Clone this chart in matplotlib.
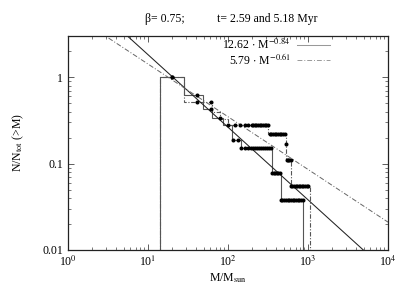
import matplotlib
matplotlib.use("Agg")
import matplotlib.pyplot as plt
import numpy as np

plt.rcParams['font.family'] = ['Liberation Serif', 'DejaVu Serif']
plt.rcParams['mathtext.fontset'] = 'stix'

# Power-law fits
fit_solid_amp, fit_solid_exp = 12.62, -0.84
fit_dash_amp, fit_dash_exp = 5.79, -0.61
fit_m = [1.0, 1e4]

# Cumulative distribution, t = 2.59 Myr (solid steps)
sol_edges = [14.1, 28.2, 48.7, 63, 86, 111, 145, 355, 457, 875]
sol_levels = [1.0, 0.62, 0.43, 0.34, 0.28, 0.19, 0.153, 0.078, 0.038]
sol_dot_m = [20, 40.6, 61.3, 79, 100, 115, 133,
             145, 163, 178, 194, 205, 218, 230, 243, 258, 274, 290, 307, 325, 340,
             355, 372, 390, 408, 427, 447,
             460, 480, 505, 530, 555, 585, 615, 645, 675, 710, 745, 780, 820, 860]
sol_dot_v = [1.0, 0.62, 0.43, 0.34, 0.28, 0.19, 0.19,
             0.153, 0.153, 0.153, 0.153, 0.153, 0.153, 0.153, 0.153, 0.153, 0.153, 0.153, 0.153, 0.153, 0.153,
             0.078, 0.078, 0.078, 0.078, 0.078, 0.078,
             0.038, 0.038, 0.038, 0.038, 0.038, 0.038, 0.038, 0.038, 0.038, 0.038, 0.038, 0.038, 0.038, 0.038]

# Cumulative distribution, t = 5.18 Myr (dash-dot steps)
dsh_edges = [14.1, 28.2, 63, 79, 100, 316, 531, 613, 1060]
dsh_levels = [1.0, 0.51, 0.40, 0.33, 0.28, 0.22, 0.111, 0.055]
dsh_dot_m = [20, 40.6, 61.3,
             121, 141, 163, 178, 197, 205, 215, 226, 237, 248, 260, 273, 287, 301, 316,
             332, 348, 365, 383, 402, 422, 443, 465, 488, 510,
             531,
             540, 560, 580, 605,
             613, 640, 670, 700, 730, 765, 800, 835, 875, 915, 960, 1005]
dsh_dot_v = [1.0, 0.51, 0.51,
             0.28, 0.28, 0.28, 0.28, 0.28, 0.28, 0.28, 0.28, 0.28, 0.28, 0.28, 0.28, 0.28, 0.28, 0.28,
             0.22, 0.22, 0.22, 0.22, 0.22, 0.22, 0.22, 0.22, 0.22, 0.22,
             0.17,
             0.111, 0.111, 0.111, 0.111,
             0.055, 0.055, 0.055, 0.055, 0.055, 0.055, 0.055, 0.055, 0.055, 0.055, 0.055, 0.055]

fig = plt.figure(figsize=(4.09, 2.87), dpi=100)
ax = fig.add_axes([68/409, 37/287, 320/409, 214/287])

fm = np.array(fit_m)
ax.plot(fm, fit_solid_amp * fm**fit_solid_exp, color='#222222', lw=0.75,
        label=r'12.62 $\cdot$ M$^{-0.84}$')
ax.plot(fm, fit_dash_amp * fm**fit_dash_exp, color='#666666', lw=0.7,
        dashes=[5, 2, 1, 2], label=r'5.79 $\cdot$ M$^{-0.61}$')

ax.stairs(sol_levels, sol_edges, baseline=1e-4, fill=False, color='#555555', lw=0.8)
ax.stairs(dsh_levels, dsh_edges, baseline=1e-4, fill=False, color='#555555', lw=0.8,
          linestyle=(0, (4, 1.5, 1, 1.5)))
ax.plot(sol_dot_m, sol_dot_v, 'o', color='black', ms=2.9, mew=0)
ax.plot(dsh_dot_m, dsh_dot_v, 'o', color='black', ms=2.9, mew=0)

ax.set_xscale('log')
ax.set_yscale('log')
ax.set_xlim(1, 1e4)
ax.set_ylim(0.01, 3)

ax.set_xticks([1, 10, 100, 1000, 10000])
ax.set_xticklabels([r'10$^{0}$', r'10$^{1}$', r'10$^{2}$', r'10$^{3}$', r'10$^{4}$'])
ax.set_yticks([0.01, 0.1, 1])
ax.set_yticklabels(['0.01', '0.1', '1'])
ax.tick_params(which='both', direction='in', top=True, right=True, labelsize=8.5,
               color='#444444')
ax.tick_params(which='major', length=4, width=0.6)
ax.tick_params(which='minor', length=2, width=0.5)
for s in ax.spines.values():
    s.set_linewidth(0.9)
    s.set_color('#222222')

ax.set_xlabel(r'M/M$_{\mathrm{sun}}$', fontsize=8.5, labelpad=2)
ax.set_ylabel(r'N/N$_{\mathrm{tot}}$ (>M)', fontsize=8.5, labelpad=12)

leg = ax.legend(loc='upper right', bbox_to_anchor=(0.82, 0.99), frameon=False,
                markerfirst=False, fontsize=8.5, handlelength=2.8,
                borderaxespad=0, borderpad=0, labelspacing=0.0, handletextpad=0.6)
for h in leg.legend_handles:
    h.set_color('#999999')

fig.text(165/409, 1 - 19/287, '\u03b2= 0.75;', ha='center', va='center', fontsize=8.5)
fig.text(267/409, 1 - 19/287, 't= 2.59 and 5.18 Myr', ha='center', va='center', fontsize=8.5)

fig.savefig('out.png', dpi=100)
